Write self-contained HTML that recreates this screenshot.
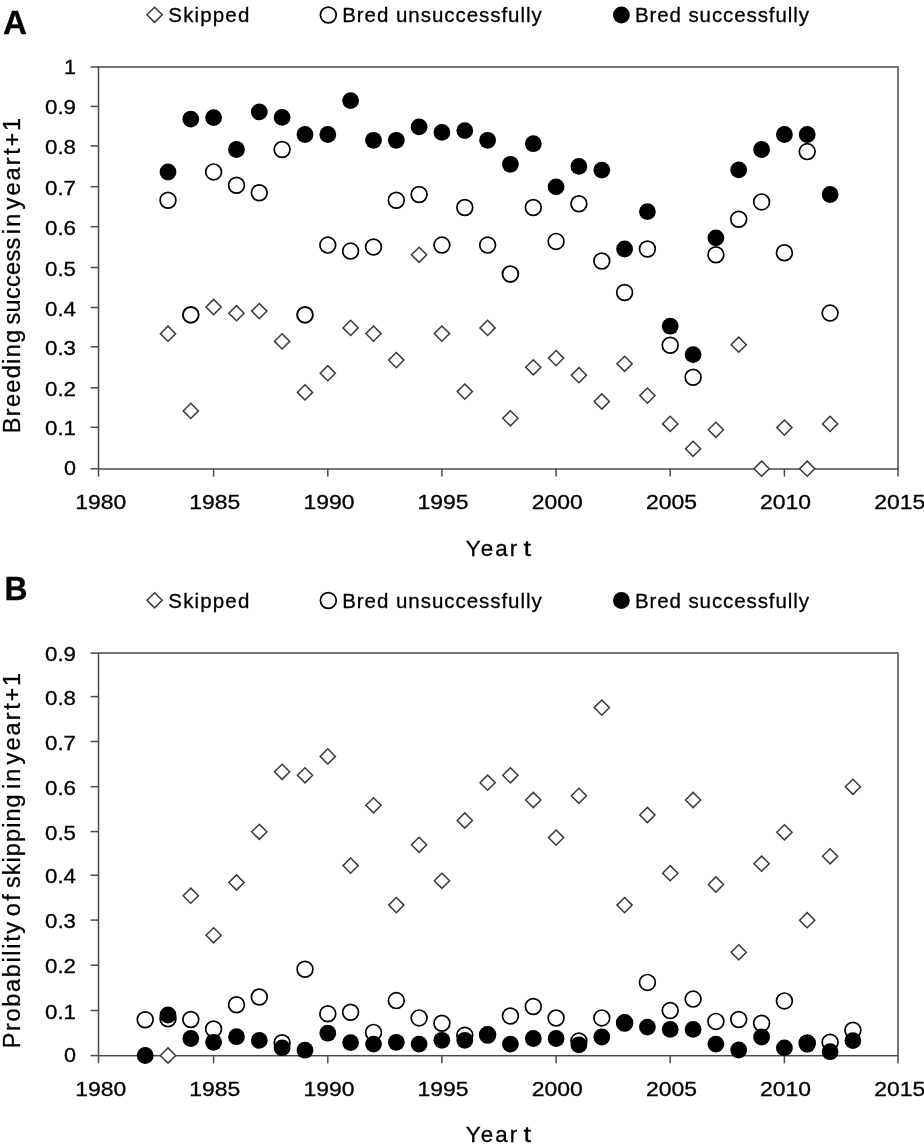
<!DOCTYPE html>
<html><head><meta charset="utf-8"><title>Breeding success and skipping</title>
<style>html,body{margin:0;padding:0;background:#fff;width:924px;height:1144px;overflow:hidden}svg{display:block}</style>
</head><body>
<svg style="will-change:transform" width="924" height="1144" viewBox="0 0 924 1144">
<style>
text { font-family: "Liberation Sans", sans-serif; fill:#000; stroke:#000; stroke-width:0.3px; }
.lg { font-size: 20.5px; }
.tk { font-size: 20px; }
.ax { font-size: 22.4px; }
.yt { font-size: 23.5px; }
.pl { font-size: 34px; font-weight: bold; }
</style>
<rect width="924" height="1144" fill="#fff"/>
<text x="3.0" y="33.9" class="pl" textLength="24" lengthAdjust="spacingAndGlyphs">A</text>
<text x="4.6" y="599.9" class="pl" textLength="23" lengthAdjust="spacingAndGlyphs">B</text>
<path d="M154.6 7.2L162.2 14.8L154.6 22.4L147 14.8Z" fill="#fff" stroke="#3a3a3a" stroke-width="1.5"/>
<text x="168.3" y="22.2" textLength="81" lengthAdjust="spacing" class="lg">Skipped</text>
<circle cx="328.3" cy="15" r="7.9" fill="#fff" stroke="#000" stroke-width="1.7"/>
<text x="342.2" y="22.2" textLength="199.5" lengthAdjust="spacing" class="lg">Bred unsuccessfully</text>
<circle cx="621.4" cy="15" r="8.4" fill="#000"/>
<text x="634.9" y="22.2" textLength="174" lengthAdjust="spacing" class="lg">Bred successfully</text>
<path d="M154.6 592.7L162.2 600.3L154.6 607.9L147 600.3Z" fill="#fff" stroke="#3a3a3a" stroke-width="1.5"/>
<text x="168.3" y="607.7" textLength="81" lengthAdjust="spacing" class="lg">Skipped</text>
<circle cx="328.3" cy="600.5" r="7.9" fill="#fff" stroke="#000" stroke-width="1.7"/>
<text x="342.2" y="607.7" textLength="199.5" lengthAdjust="spacing" class="lg">Bred unsuccessfully</text>
<circle cx="621.4" cy="600.5" r="8.4" fill="#000"/>
<text x="634.9" y="607.7" textLength="174" lengthAdjust="spacing" class="lg">Bred successfully</text>
<rect x="98.5" y="67" width="799.5" height="402" fill="none" stroke="#4a4a4a" stroke-width="1.5"/>
<line x1="90.6" y1="468.8" x2="98.5" y2="468.8" stroke="#4a4a4a" stroke-width="1.5"/>
<line x1="90.6" y1="427.3" x2="98.5" y2="427.3" stroke="#4a4a4a" stroke-width="1.5"/>
<line x1="90.6" y1="387.8" x2="98.5" y2="387.8" stroke="#4a4a4a" stroke-width="1.5"/>
<line x1="90.6" y1="346.8" x2="98.5" y2="346.8" stroke="#4a4a4a" stroke-width="1.5"/>
<line x1="90.6" y1="307.5" x2="98.5" y2="307.5" stroke="#4a4a4a" stroke-width="1.5"/>
<line x1="90.6" y1="267.5" x2="98.5" y2="267.5" stroke="#4a4a4a" stroke-width="1.5"/>
<line x1="90.6" y1="226.7" x2="98.5" y2="226.7" stroke="#4a4a4a" stroke-width="1.5"/>
<line x1="90.6" y1="186.7" x2="98.5" y2="186.7" stroke="#4a4a4a" stroke-width="1.5"/>
<line x1="90.6" y1="145.9" x2="98.5" y2="145.9" stroke="#4a4a4a" stroke-width="1.5"/>
<line x1="90.6" y1="106.4" x2="98.5" y2="106.4" stroke="#4a4a4a" stroke-width="1.5"/>
<line x1="90.6" y1="67.0" x2="98.5" y2="67.0" stroke="#4a4a4a" stroke-width="1.5"/>
<line x1="98.5" y1="469" x2="98.5" y2="476.6" stroke="#4a4a4a" stroke-width="1.5"/>
<line x1="213.6" y1="469" x2="213.6" y2="476.6" stroke="#4a4a4a" stroke-width="1.5"/>
<line x1="327.8" y1="469" x2="327.8" y2="476.6" stroke="#4a4a4a" stroke-width="1.5"/>
<line x1="441.9" y1="469" x2="441.9" y2="476.6" stroke="#4a4a4a" stroke-width="1.5"/>
<line x1="556.1" y1="469" x2="556.1" y2="476.6" stroke="#4a4a4a" stroke-width="1.5"/>
<line x1="670.2" y1="469" x2="670.2" y2="476.6" stroke="#4a4a4a" stroke-width="1.5"/>
<line x1="784.4" y1="469" x2="784.4" y2="476.6" stroke="#4a4a4a" stroke-width="1.5"/>
<line x1="898.0" y1="469" x2="898.0" y2="476.6" stroke="#4a4a4a" stroke-width="1.5"/>
<rect x="98.5" y="653" width="799.5" height="402.70000000000005" fill="none" stroke="#4a4a4a" stroke-width="1.5"/>
<line x1="90.6" y1="1055.6" x2="98.5" y2="1055.6" stroke="#4a4a4a" stroke-width="1.5"/>
<line x1="90.6" y1="1010.5" x2="98.5" y2="1010.5" stroke="#4a4a4a" stroke-width="1.5"/>
<line x1="90.6" y1="965.2" x2="98.5" y2="965.2" stroke="#4a4a4a" stroke-width="1.5"/>
<line x1="90.6" y1="920.1" x2="98.5" y2="920.1" stroke="#4a4a4a" stroke-width="1.5"/>
<line x1="90.6" y1="875.2" x2="98.5" y2="875.2" stroke="#4a4a4a" stroke-width="1.5"/>
<line x1="90.6" y1="831.6" x2="98.5" y2="831.6" stroke="#4a4a4a" stroke-width="1.5"/>
<line x1="90.6" y1="786.7" x2="98.5" y2="786.7" stroke="#4a4a4a" stroke-width="1.5"/>
<line x1="90.6" y1="741.5" x2="98.5" y2="741.5" stroke="#4a4a4a" stroke-width="1.5"/>
<line x1="90.6" y1="696.6" x2="98.5" y2="696.6" stroke="#4a4a4a" stroke-width="1.5"/>
<line x1="90.6" y1="653.1" x2="98.5" y2="653.1" stroke="#4a4a4a" stroke-width="1.5"/>
<line x1="98.5" y1="1055.7" x2="98.5" y2="1063.3" stroke="#4a4a4a" stroke-width="1.5"/>
<line x1="213.6" y1="1055.7" x2="213.6" y2="1063.3" stroke="#4a4a4a" stroke-width="1.5"/>
<line x1="327.8" y1="1055.7" x2="327.8" y2="1063.3" stroke="#4a4a4a" stroke-width="1.5"/>
<line x1="441.9" y1="1055.7" x2="441.9" y2="1063.3" stroke="#4a4a4a" stroke-width="1.5"/>
<line x1="556.1" y1="1055.7" x2="556.1" y2="1063.3" stroke="#4a4a4a" stroke-width="1.5"/>
<line x1="670.2" y1="1055.7" x2="670.2" y2="1063.3" stroke="#4a4a4a" stroke-width="1.5"/>
<line x1="784.4" y1="1055.7" x2="784.4" y2="1063.3" stroke="#4a4a4a" stroke-width="1.5"/>
<line x1="898.0" y1="1055.7" x2="898.0" y2="1063.3" stroke="#4a4a4a" stroke-width="1.5"/>
<text x="76" y="475.4" text-anchor="end" textLength="12" lengthAdjust="spacingAndGlyphs" class="tk">0</text>
<text x="76" y="435.3" text-anchor="end" textLength="31" lengthAdjust="spacingAndGlyphs" class="tk">0.1</text>
<text x="76" y="395.8" text-anchor="end" textLength="31" lengthAdjust="spacingAndGlyphs" class="tk">0.2</text>
<text x="76" y="354.8" text-anchor="end" textLength="31" lengthAdjust="spacingAndGlyphs" class="tk">0.3</text>
<text x="76" y="315.5" text-anchor="end" textLength="31" lengthAdjust="spacingAndGlyphs" class="tk">0.4</text>
<text x="76" y="275.5" text-anchor="end" textLength="31" lengthAdjust="spacingAndGlyphs" class="tk">0.5</text>
<text x="76" y="234.7" text-anchor="end" textLength="31" lengthAdjust="spacingAndGlyphs" class="tk">0.6</text>
<text x="76" y="194.7" text-anchor="end" textLength="31" lengthAdjust="spacingAndGlyphs" class="tk">0.7</text>
<text x="76" y="153.9" text-anchor="end" textLength="31" lengthAdjust="spacingAndGlyphs" class="tk">0.8</text>
<text x="76" y="114.4" text-anchor="end" textLength="31" lengthAdjust="spacingAndGlyphs" class="tk">0.9</text>
<text x="76" y="73.6" text-anchor="end" textLength="12" lengthAdjust="spacingAndGlyphs" class="tk">1</text>
<text x="76" y="1062.2" text-anchor="end" textLength="12" lengthAdjust="spacingAndGlyphs" class="tk">0</text>
<text x="76" y="1018.5" text-anchor="end" textLength="31" lengthAdjust="spacingAndGlyphs" class="tk">0.1</text>
<text x="76" y="973.2" text-anchor="end" textLength="31" lengthAdjust="spacingAndGlyphs" class="tk">0.2</text>
<text x="76" y="928.1" text-anchor="end" textLength="31" lengthAdjust="spacingAndGlyphs" class="tk">0.3</text>
<text x="76" y="883.2" text-anchor="end" textLength="31" lengthAdjust="spacingAndGlyphs" class="tk">0.4</text>
<text x="76" y="839.6" text-anchor="end" textLength="31" lengthAdjust="spacingAndGlyphs" class="tk">0.5</text>
<text x="76" y="794.7" text-anchor="end" textLength="31" lengthAdjust="spacingAndGlyphs" class="tk">0.6</text>
<text x="76" y="749.5" text-anchor="end" textLength="31" lengthAdjust="spacingAndGlyphs" class="tk">0.7</text>
<text x="76" y="704.6" text-anchor="end" textLength="31" lengthAdjust="spacingAndGlyphs" class="tk">0.8</text>
<text x="76" y="661.1" text-anchor="end" textLength="31" lengthAdjust="spacingAndGlyphs" class="tk">0.9</text>
<text x="100.7" y="509.3" text-anchor="middle" textLength="51" lengthAdjust="spacingAndGlyphs" class="tk">1980</text>
<text x="214.8" y="509.3" text-anchor="middle" textLength="51" lengthAdjust="spacingAndGlyphs" class="tk">1985</text>
<text x="329.0" y="509.3" text-anchor="middle" textLength="51" lengthAdjust="spacingAndGlyphs" class="tk">1990</text>
<text x="443.1" y="509.3" text-anchor="middle" textLength="51" lengthAdjust="spacingAndGlyphs" class="tk">1995</text>
<text x="557.3" y="509.3" text-anchor="middle" textLength="51" lengthAdjust="spacingAndGlyphs" class="tk">2000</text>
<text x="671.5" y="509.3" text-anchor="middle" textLength="51" lengthAdjust="spacingAndGlyphs" class="tk">2005</text>
<text x="785.6" y="509.3" text-anchor="middle" textLength="51" lengthAdjust="spacingAndGlyphs" class="tk">2010</text>
<text x="899.8" y="509.3" text-anchor="middle" textLength="51" lengthAdjust="spacingAndGlyphs" class="tk">2015</text>
<text x="100.7" y="1095.5" text-anchor="middle" textLength="51" lengthAdjust="spacingAndGlyphs" class="tk">1980</text>
<text x="214.8" y="1095.5" text-anchor="middle" textLength="51" lengthAdjust="spacingAndGlyphs" class="tk">1985</text>
<text x="329.0" y="1095.5" text-anchor="middle" textLength="51" lengthAdjust="spacingAndGlyphs" class="tk">1990</text>
<text x="443.1" y="1095.5" text-anchor="middle" textLength="51" lengthAdjust="spacingAndGlyphs" class="tk">1995</text>
<text x="557.3" y="1095.5" text-anchor="middle" textLength="51" lengthAdjust="spacingAndGlyphs" class="tk">2000</text>
<text x="671.5" y="1095.5" text-anchor="middle" textLength="51" lengthAdjust="spacingAndGlyphs" class="tk">2005</text>
<text x="785.6" y="1095.5" text-anchor="middle" textLength="51" lengthAdjust="spacingAndGlyphs" class="tk">2010</text>
<text x="899.8" y="1095.5" text-anchor="middle" textLength="51" lengthAdjust="spacingAndGlyphs" class="tk">2015</text>
<text x="465.8" y="556" textLength="51.4" lengthAdjust="spacing" class="ax">Year</text><text x="523.6" y="556" textLength="7.6" lengthAdjust="spacingAndGlyphs" class="ax">t</text>
<text x="465.8" y="1142.2" textLength="51.4" lengthAdjust="spacing" class="ax">Year</text><text x="523.6" y="1142.2" textLength="7.6" lengthAdjust="spacingAndGlyphs" class="ax">t</text>
<g transform="translate(19.8 432.4) rotate(-90)" class="yt"><text x="-0.8" y="0" textLength="103.3" lengthAdjust="spacing">Breeding</text><text x="107.9" y="0" textLength="86.8" lengthAdjust="spacing">success</text><text x="198.1" y="0" textLength="20.6" lengthAdjust="spacing">in</text><text x="223.0" y="0" textLength="51.9" lengthAdjust="spacing">year</text><text x="277.7" y="0" textLength="36.8" lengthAdjust="spacing">t+1</text></g>
<g transform="translate(19.8 1047.5) rotate(-90)" class="yt"><text x="-0.8" y="0" textLength="126.4" lengthAdjust="spacing">Probability</text><text x="131.2" y="0" textLength="22.2" lengthAdjust="spacing">of</text><text x="159.4" y="0" textLength="93.8" lengthAdjust="spacing">skipping</text><text x="258.6" y="0" textLength="20.2" lengthAdjust="spacing">in</text><text x="283.1" y="0" textLength="51.9" lengthAdjust="spacing">year</text><text x="337.8" y="0" textLength="36.8" lengthAdjust="spacing">t+1</text></g>
<g fill="#fff" stroke="#3a3a3a" stroke-width="1.5">
<path d="M168.0 326.1L175.6 333.7L168.0 341.3L160.4 333.7Z"/>
<path d="M190.8 403.3L198.4 410.9L190.8 418.5L183.2 410.9Z"/>
<path d="M213.6 299.4L221.2 307.0L213.6 314.6L206.0 307.0Z"/>
<path d="M236.5 305.6L244.1 313.2L236.5 320.8L228.9 313.2Z"/>
<path d="M259.3 303.5L266.9 311.1L259.3 318.7L251.7 311.1Z"/>
<path d="M282.1 333.8L289.7 341.4L282.1 349.0L274.5 341.4Z"/>
<path d="M305.0 384.8L312.6 392.4L305.0 400.0L297.4 392.4Z"/>
<path d="M327.8 365.6L335.4 373.2L327.8 380.8L320.2 373.2Z"/>
<path d="M350.6 320.3L358.2 327.9L350.6 335.5L343.0 327.9Z"/>
<path d="M373.5 326.0L381.1 333.6L373.5 341.2L365.9 333.6Z"/>
<path d="M396.3 352.5L403.9 360.1L396.3 367.7L388.7 360.1Z"/>
<path d="M419.1 247.2L426.7 254.8L419.1 262.4L411.5 254.8Z"/>
<path d="M441.9 326.0L449.6 333.6L441.9 341.2L434.3 333.6Z"/>
<path d="M464.8 384.0L472.4 391.6L464.8 399.2L457.2 391.6Z"/>
<path d="M487.6 320.3L495.2 327.9L487.6 335.5L480.0 327.9Z"/>
<path d="M510.4 410.7L518.0 418.3L510.4 425.9L502.8 418.3Z"/>
<path d="M533.3 359.7L540.9 367.3L533.3 374.9L525.7 367.3Z"/>
<path d="M556.1 350.5L563.7 358.1L556.1 365.7L548.5 358.1Z"/>
<path d="M578.9 367.6L586.5 375.2L578.9 382.8L571.3 375.2Z"/>
<path d="M601.8 393.9L609.4 401.5L601.8 409.1L594.2 401.5Z"/>
<path d="M624.6 356.2L632.2 363.8L624.6 371.4L617.0 363.8Z"/>
<path d="M647.4 388.0L655.0 395.6L647.4 403.2L639.8 395.6Z"/>
<path d="M670.2 416.3L677.9 423.9L670.2 431.5L662.6 423.9Z"/>
<path d="M693.1 441.2L700.7 448.8L693.1 456.4L685.5 448.8Z"/>
<path d="M715.9 422.2L723.5 429.8L715.9 437.4L708.3 429.8Z"/>
<path d="M738.7 337.1L746.3 344.7L738.7 352.3L731.1 344.7Z"/>
<path d="M761.6 461.1L769.2 468.7L761.6 476.3L754.0 468.7Z"/>
<path d="M784.4 420.0L792.0 427.6L784.4 435.2L776.8 427.6Z"/>
<path d="M807.2 461.1L814.8 468.7L807.2 476.3L799.6 468.7Z"/>
<path d="M830.1 416.3L837.7 423.9L830.1 431.5L822.5 423.9Z"/>
</g>
<g fill="#fff" stroke="#000" stroke-width="1.7">
<circle cx="168.0" cy="200.3" r="7.9"/>
<circle cx="190.8" cy="314.8" r="7.9" stroke-width="1.95"/>
<circle cx="213.6" cy="171.9" r="7.9"/>
<circle cx="236.5" cy="185.3" r="7.9"/>
<circle cx="259.3" cy="192.7" r="7.9"/>
<circle cx="282.1" cy="149.5" r="7.9"/>
<circle cx="305.0" cy="314.8" r="7.9" stroke-width="1.95"/>
<circle cx="327.8" cy="245.1" r="7.9"/>
<circle cx="350.6" cy="251.1" r="7.9"/>
<circle cx="373.5" cy="247" r="7.9"/>
<circle cx="396.3" cy="200.3" r="7.9"/>
<circle cx="419.1" cy="194.5" r="7.9"/>
<circle cx="441.9" cy="245.1" r="7.9"/>
<circle cx="464.8" cy="207.5" r="7.9"/>
<circle cx="487.6" cy="245.1" r="7.9"/>
<circle cx="510.4" cy="274" r="7.9" stroke-width="1.95"/>
<circle cx="533.3" cy="207.5" r="7.9"/>
<circle cx="556.1" cy="241.4" r="7.9"/>
<circle cx="578.9" cy="203.8" r="7.9"/>
<circle cx="601.8" cy="261" r="7.9"/>
<circle cx="624.6" cy="292.5" r="7.9"/>
<circle cx="647.4" cy="249" r="7.9"/>
<circle cx="670.2" cy="345.3" r="7.9"/>
<circle cx="693.1" cy="377.2" r="7.9"/>
<circle cx="715.9" cy="254.8" r="7.9"/>
<circle cx="738.7" cy="219.2" r="7.9"/>
<circle cx="761.6" cy="201.9" r="7.9"/>
<circle cx="784.4" cy="252.7" r="7.9"/>
<circle cx="807.2" cy="151.6" r="7.9"/>
<circle cx="830.1" cy="313.1" r="7.9"/>
</g><g fill="#000">
<circle cx="168.0" cy="172" r="8.4"/>
<circle cx="190.8" cy="119.1" r="8.4"/>
<circle cx="213.6" cy="117.6" r="8.4"/>
<circle cx="236.5" cy="149.5" r="8.4"/>
<circle cx="259.3" cy="111.9" r="8.4"/>
<circle cx="282.1" cy="117.4" r="8.4"/>
<circle cx="305.0" cy="134.5" r="8.4"/>
<circle cx="327.8" cy="134.5" r="8.4"/>
<circle cx="350.6" cy="100.6" r="8.4"/>
<circle cx="373.5" cy="140.3" r="8.4"/>
<circle cx="396.3" cy="140.3" r="8.4"/>
<circle cx="419.1" cy="126.9" r="8.4"/>
<circle cx="441.9" cy="132.4" r="8.4"/>
<circle cx="464.8" cy="130.6" r="8.4"/>
<circle cx="487.6" cy="140.3" r="8.4"/>
<circle cx="510.4" cy="164.3" r="8.4"/>
<circle cx="533.3" cy="143.7" r="8.4"/>
<circle cx="556.1" cy="186.9" r="8.4"/>
<circle cx="578.9" cy="166.4" r="8.4"/>
<circle cx="601.8" cy="170.1" r="8.4"/>
<circle cx="624.6" cy="249" r="8.4"/>
<circle cx="647.4" cy="211.6" r="8.4"/>
<circle cx="670.2" cy="326.2" r="8.4"/>
<circle cx="693.1" cy="354.6" r="8.4"/>
<circle cx="715.9" cy="237.9" r="8.4"/>
<circle cx="738.7" cy="169.9" r="8.4"/>
<circle cx="761.6" cy="149.5" r="8.4"/>
<circle cx="784.4" cy="134.5" r="8.4"/>
<circle cx="807.2" cy="134.5" r="8.4"/>
<circle cx="830.1" cy="194.5" r="8.4"/>
</g>
<g fill="#fff" stroke="#3a3a3a" stroke-width="1.5">
<path d="M168.0 1047.9L175.6 1055.5L168.0 1063.1L160.4 1055.5Z"/>
<path d="M190.8 888.1L198.4 895.7L190.8 903.3L183.2 895.7Z"/>
<path d="M213.6 927.7L221.2 935.3L213.6 942.9L206.0 935.3Z"/>
<path d="M236.5 874.9L244.1 882.5L236.5 890.1L228.9 882.5Z"/>
<path d="M259.3 824.2L266.9 831.8L259.3 839.4L251.7 831.8Z"/>
<path d="M282.1 764.2L289.7 771.8L282.1 779.4L274.5 771.8Z"/>
<path d="M305.0 767.7L312.6 775.3L305.0 782.9L297.4 775.3Z"/>
<path d="M327.8 748.8L335.4 756.4L327.8 764.0L320.2 756.4Z"/>
<path d="M350.6 858.0L358.2 865.6L350.6 873.2L343.0 865.6Z"/>
<path d="M373.5 797.7L381.1 805.3L373.5 812.9L365.9 805.3Z"/>
<path d="M396.3 897.5L403.9 905.1L396.3 912.7L388.7 905.1Z"/>
<path d="M419.1 837.2L426.7 844.8L419.1 852.4L411.5 844.8Z"/>
<path d="M441.9 873.2L449.6 880.8L441.9 888.4L434.3 880.8Z"/>
<path d="M464.8 812.9L472.4 820.5L464.8 828.1L457.2 820.5Z"/>
<path d="M487.6 775.1L495.2 782.7L487.6 790.3L480.0 782.7Z"/>
<path d="M510.4 767.7L518.0 775.3L510.4 782.9L502.8 775.3Z"/>
<path d="M533.3 792.4L540.9 800.0L533.3 807.6L525.7 800.0Z"/>
<path d="M556.1 830.0L563.7 837.6L556.1 845.2L548.5 837.6Z"/>
<path d="M578.9 788.2L586.5 795.8L578.9 803.4L571.3 795.8Z"/>
<path d="M601.8 700.0L609.4 707.6L601.8 715.2L594.2 707.6Z"/>
<path d="M624.6 897.5L632.2 905.1L624.6 912.7L617.0 905.1Z"/>
<path d="M647.4 807.4L655.0 815.0L647.4 822.6L639.8 815.0Z"/>
<path d="M670.2 865.6L677.9 873.2L670.2 880.8L662.6 873.2Z"/>
<path d="M693.1 792.4L700.7 800.0L693.1 807.6L685.5 800.0Z"/>
<path d="M715.9 876.9L723.5 884.5L715.9 892.1L708.3 884.5Z"/>
<path d="M738.7 944.7L746.3 952.3L738.7 959.9L731.1 952.3Z"/>
<path d="M761.6 856.1L769.2 863.7L761.6 871.3L754.0 863.7Z"/>
<path d="M784.4 824.7L792.0 832.3L784.4 839.9L776.8 832.3Z"/>
<path d="M807.2 912.6L814.8 920.2L807.2 927.8L799.6 920.2Z"/>
<path d="M830.1 848.7L837.7 856.3L830.1 863.9L822.5 856.3Z"/>
<path d="M852.9 779.2L860.5 786.8L852.9 794.4L845.3 786.8Z"/>
</g>
<g fill="#fff" stroke="#000" stroke-width="1.7">
<circle cx="145.2" cy="1019.8" r="7.9"/>
<circle cx="168.0" cy="1018.8" r="7.9"/>
<circle cx="190.8" cy="1019.5" r="7.9"/>
<circle cx="213.6" cy="1029" r="7.9"/>
<circle cx="236.5" cy="1004.7" r="7.9"/>
<circle cx="259.3" cy="997" r="7.9"/>
<circle cx="282.1" cy="1042.8" r="7.9"/>
<circle cx="305.0" cy="969.2" r="7.9"/>
<circle cx="327.8" cy="1013.8" r="7.9"/>
<circle cx="350.6" cy="1012.3" r="7.9"/>
<circle cx="373.5" cy="1032.4" r="7.9"/>
<circle cx="396.3" cy="1000.6" r="7.9"/>
<circle cx="419.1" cy="1017.9" r="7.9"/>
<circle cx="441.9" cy="1023.3" r="7.9"/>
<circle cx="464.8" cy="1035.2" r="7.9"/>
<circle cx="487.6" cy="1035" r="7.9"/>
<circle cx="510.4" cy="1016" r="7.9"/>
<circle cx="533.3" cy="1006.5" r="7.9"/>
<circle cx="556.1" cy="1018" r="7.9"/>
<circle cx="578.9" cy="1041" r="7.9"/>
<circle cx="601.8" cy="1017.9" r="7.9"/>
<circle cx="624.6" cy="1023" r="7.9"/>
<circle cx="647.4" cy="982.4" r="7.9"/>
<circle cx="670.2" cy="1010.5" r="7.9"/>
<circle cx="693.1" cy="999.1" r="7.9"/>
<circle cx="715.9" cy="1021.4" r="7.9"/>
<circle cx="738.7" cy="1019.5" r="7.9"/>
<circle cx="761.6" cy="1023.3" r="7.9"/>
<circle cx="784.4" cy="1000.9" r="7.9"/>
<circle cx="807.2" cy="1043" r="7.9"/>
<circle cx="830.1" cy="1042.3" r="7.9"/>
<circle cx="852.9" cy="1030.2" r="7.9"/>
</g><g fill="#000">
<circle cx="145.2" cy="1055.5" r="8.4"/>
<circle cx="168.0" cy="1015" r="8.4"/>
<circle cx="190.8" cy="1038.5" r="8.4"/>
<circle cx="213.6" cy="1042.3" r="8.4"/>
<circle cx="236.5" cy="1036.7" r="8.4"/>
<circle cx="259.3" cy="1040.4" r="8.4"/>
<circle cx="282.1" cy="1047.9" r="8.4"/>
<circle cx="305.0" cy="1050.2" r="8.4"/>
<circle cx="327.8" cy="1033.2" r="8.4"/>
<circle cx="350.6" cy="1042.6" r="8.4"/>
<circle cx="373.5" cy="1044.1" r="8.4"/>
<circle cx="396.3" cy="1042.3" r="8.4"/>
<circle cx="419.1" cy="1044.1" r="8.4"/>
<circle cx="441.9" cy="1040.3" r="8.4"/>
<circle cx="464.8" cy="1040.3" r="8.4"/>
<circle cx="487.6" cy="1034.5" r="8.4"/>
<circle cx="510.4" cy="1044.1" r="8.4"/>
<circle cx="533.3" cy="1038.5" r="8.4"/>
<circle cx="556.1" cy="1038.5" r="8.4"/>
<circle cx="578.9" cy="1044.8" r="8.4"/>
<circle cx="601.8" cy="1037" r="8.4"/>
<circle cx="624.6" cy="1022.4" r="8.4"/>
<circle cx="647.4" cy="1027.1" r="8.4"/>
<circle cx="670.2" cy="1029.4" r="8.4"/>
<circle cx="693.1" cy="1029.4" r="8.4"/>
<circle cx="715.9" cy="1044.1" r="8.4"/>
<circle cx="738.7" cy="1050" r="8.4"/>
<circle cx="761.6" cy="1037" r="8.4"/>
<circle cx="784.4" cy="1047.9" r="8.4"/>
<circle cx="807.2" cy="1044.3" r="8.4"/>
<circle cx="830.1" cy="1051.7" r="8.4"/>
<circle cx="852.9" cy="1040.6" r="8.4"/>
</g>
</svg>
</body></html>
